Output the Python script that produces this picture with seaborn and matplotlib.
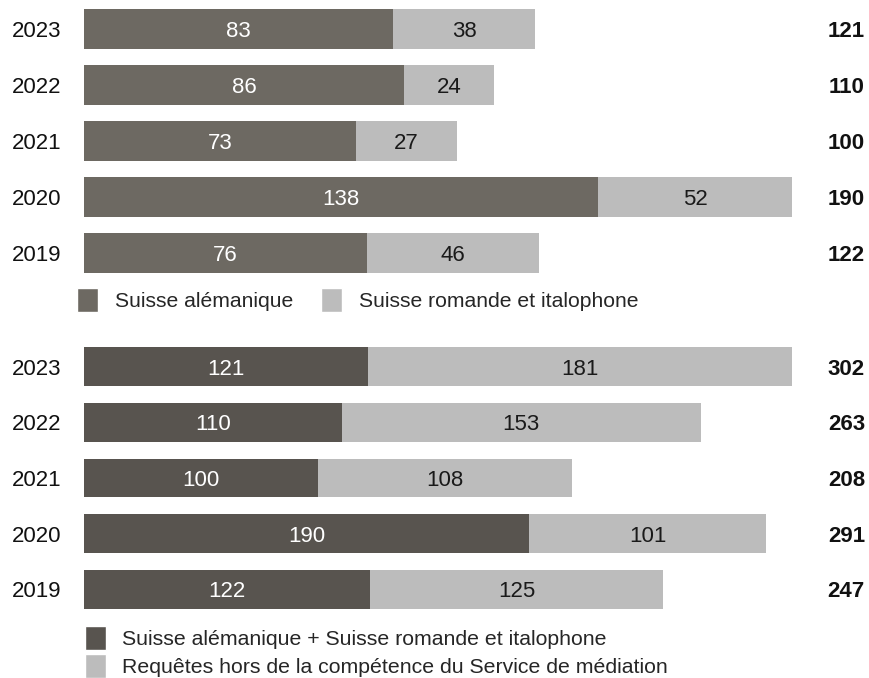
import matplotlib
matplotlib.use("Agg")
import matplotlib.pyplot as plt
import matplotlib.transforms as mtransforms
from matplotlib.patches import Patch
import seaborn as sns
import pandas as pd

sns.set_style("white")
plt.rcParams['font.family'] = ['Liberation Sans', 'DejaVu Sans']

years = ["2023", "2022", "2021", "2020", "2019"]

# Panel 1
top_dark = [83, 86, 73, 138, 76]
top_light = [38, 24, 27, 52, 46]
top_total = [121, 110, 100, 190, 122]
top_labels = ["Suisse alémanique", "Suisse romande et italophone"]

# Panel 2
bot_dark = [121, 110, 100, 190, 122]
bot_light = [181, 153, 108, 101, 125]
bot_total = [302, 263, 208, 291, 247]
bot_labels = ["Suisse alémanique + Suisse romande et italophone",
              "Requêtes hors de la compétence du Service de médiation"]

W, H = 870, 678
fig = plt.figure(figsize=(W / 100, H / 100), dpi=100)

FS = 16
LIGHT = "#bcbcbc"
TOP_DARK = "#6d6962"
BOT_DARK = "#58544f"

def fig_box(x0, y0, x1, y1):
    return [x0 / W, 1 - y1 / H, (x1 - x0) / W, (y1 - y0) / H]

def panel(ax, dark, light, total, dark_color):
    df = pd.DataFrame({"year": years, "dark": dark, "light": light, "total": total})
    sns.barplot(data=df, x="total", y="year", order=years, orient="h",
                color=LIGHT, saturation=1, width=0.7, ax=ax, linewidth=0)
    sns.barplot(data=df, x="dark", y="year", order=years, orient="h",
                color=dark_color, saturation=1, width=0.7, ax=ax, linewidth=0)
    ax.set_xlim(0, max(total))
    ax.set_ylim(4.5, -0.5)
    ax.set_xlabel("")
    ax.set_ylabel("")
    ax.set_xticks([])
    for s in ax.spines.values():
        s.set_visible(False)
    ax.tick_params(axis="y", length=0, pad=0, labelsize=FS, labelcolor="#111111")
    for t in ax.get_yticklabels():
        t.set_verticalalignment("center_baseline")
        t.set_horizontalalignment("left")
        t.set_x(-72 / 708)
        t.set_transform(mtransforms.blended_transform_factory(ax.transAxes, ax.transData))
    tr = mtransforms.blended_transform_factory(fig.transFigure, ax.transData)
    for i, (d, l, t) in enumerate(zip(dark, light, total)):
        ax.text(d / 2, i, str(d), ha="center", va="center_baseline", color="white", fontsize=FS)
        ax.text(d + l / 2, i, str(l), ha="center", va="center_baseline", color="#1a1a1a", fontsize=FS)
        ax.text(865 / W, i, str(t), transform=tr, ha="right", va="center_baseline",
                color="#111111", fontsize=FS, fontweight="bold")

ax1 = fig.add_axes(fig_box(84, 1, 792, 281))
panel(ax1, top_dark, top_light, top_total, TOP_DARK)

ax2 = fig.add_axes(fig_box(84, 339, 792, 617))
panel(ax2, bot_dark, bot_light, bot_total, BOT_DARK)

h1 = [Patch(facecolor=TOP_DARK), Patch(facecolor=LIGHT)]
fig.legend(h1, top_labels, loc="center left", bbox_to_anchor=(77 / W, 1 - 300 / H),
           ncol=2, frameon=False, fontsize=15.2, borderpad=0, borderaxespad=0,
           handlelength=1.0, handleheight=1.44, handletextpad=0.8, columnspacing=1.3)

h2 = [Patch(facecolor=BOT_DARK), Patch(facecolor=LIGHT)]
fig.legend(h2, bot_labels, loc="center left", bbox_to_anchor=(85 / W, 1 - 652 / H),
           ncol=1, frameon=False, fontsize=15.3, borderpad=0, borderaxespad=0,
           handlelength=1.0, handleheight=1.4, handletextpad=0.75, labelspacing=0.15)

fig.savefig("out.png", dpi=100)
